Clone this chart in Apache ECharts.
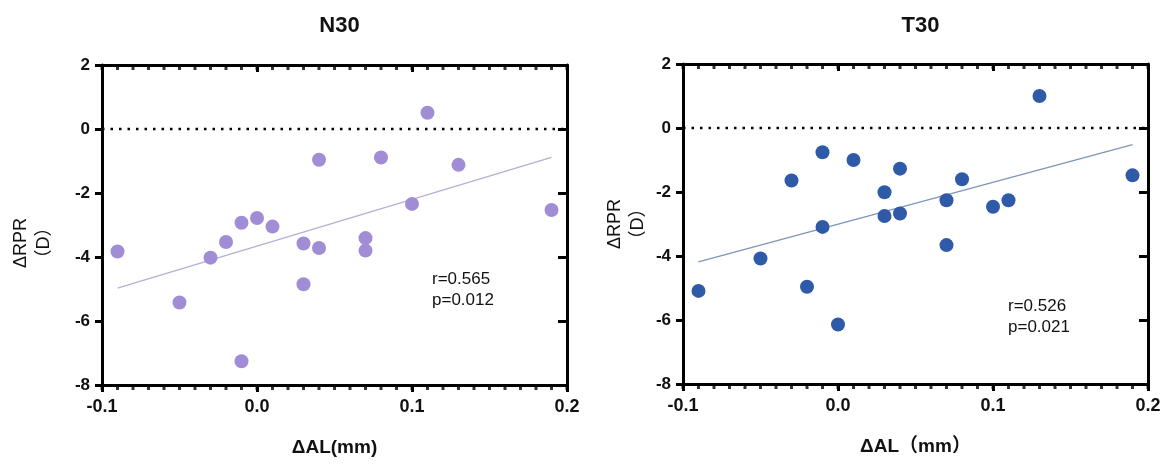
<!DOCTYPE html>
<html>
<head>
	<meta charset="utf-8">
	<title>N30 / T30</title>
	<script src="https://cdn.jsdelivr.net/npm/echarts@6/dist/echarts.min.js"></script>
	<style>
		html, body { margin: 0; padding: 0; background: #fff; }
		#chart { width: 1170px; height: 471px; }
	</style>
</head>
<body>
	<div id="chart"></div>
	<script type="text/javascript">
	// data
	var n30X = [-0.09, -0.05, -0.03, -0.02, -0.01, -0.01, 0.00, 0.01, 0.03, 0.03, 0.04, 0.04, 0.07, 0.07, 0.08, 0.10, 0.11, 0.13, 0.19];
	var n30Y = [-3.83, -5.42, -4.02, -3.53, -2.93, -7.26, -2.78, -3.05, -3.58, -4.85, -0.96, -3.72, -3.41, -3.80, -0.89, -2.34, 0.51, -1.12, -2.53];
	var n30Fit = [[-0.09, -4.97], [0.19, -0.89]];

	var t30X = [-0.09, -0.05, -0.03, -0.02, -0.01, -0.01, 0.00, 0.01, 0.03, 0.03, 0.04, 0.04, 0.07, 0.07, 0.08, 0.10, 0.11, 0.13, 0.19];
	var t30Y = [-5.09, -4.08, -1.64, -4.96, -0.76, -3.09, -6.14, -1.00, -2.01, -2.75, -1.27, -2.67, -2.26, -3.66, -1.60, -2.46, -2.26, 1.00, -1.48];
	var t30Fit = [[-0.09, -4.18], [0.19, -0.52]];

	var panelTitles = ['N30', 'T30'];
	var xNames = ['ΔAL(mm)', 'ΔAL（mm）'];
	var yName = 'ΔRPR\n（D）';
	var statTexts = [['r=0.565', 'p=0.012'], ['r=0.526', 'p=0.021']];
	var xTicks = { min: -0.1, max: 0.2, interval: 0.1 };
	var yTicks = { min: -8, max: 2, interval: 2 };
	// minor tick stops along x, every 0.01
	var minorStops = [];
	for (var k = -10; k <= 20; k++) minorStops.push(k / 100);

	var FONT = 'Arial, "Liberation Sans", "Noto Sans CJK SC", sans-serif';

	function pairs(xs, ys) {
		return xs.map(function (x, i) { return [x, ys[i]]; });
	}

	var grids = [
		{ left: 102, top: 65, width: 465, height: 320 },
		{ left: 683, top: 64, width: 465, height: 320 }
	];
	var yNameGap = [46, 33];
	var yNamePad = [[0, 36, 0, 0], [0, 0, 0, 0]];

	var tickLine = { width: 3, color: '#000' };
	var axisLine = { onZero: false, lineStyle: { color: '#000', width: 3 } };

	var xAxes = [], yAxes = [], series = [];
	grids.forEach(function (g, i) {
		xAxes.push({
			type: 'value', gridIndex: i, position: 'bottom',
			min: xTicks.min, max: xTicks.max, interval: xTicks.interval,
			name: xNames[i], nameLocation: 'middle', nameGap: 53,
			nameTextStyle: { fontFamily: FONT, fontWeight: 'bold', fontSize: 19, color: '#111' },
			axisLine: axisLine,
			axisTick: { length: 7, lineStyle: tickLine },
			axisLabel: { fontFamily: FONT, fontWeight: 'bold', fontSize: 18, color: '#111', margin: 13,
				formatter: function (v) { return v.toFixed(1); } },
			splitLine: { show: false }
		});
		xAxes.push({
			type: 'value', gridIndex: i, position: 'top',
			min: xTicks.min, max: xTicks.max, interval: xTicks.interval,
			axisLine: axisLine,
			axisTick: { inside: true, length: 7, lineStyle: tickLine },
			axisLabel: { show: false },
			splitLine: { show: false }
		});
		yAxes.push({
			type: 'value', gridIndex: i, position: 'left',
			min: yTicks.min, max: yTicks.max, interval: yTicks.interval,
			name: yName, nameLocation: 'middle', nameRotate: 90, nameGap: yNameGap[i],
			nameTextStyle: { fontFamily: FONT, fontSize: 18, color: '#111', lineHeight: 23, padding: yNamePad[i] },
			axisLine: axisLine,
			axisTick: { length: 7, lineStyle: tickLine },
			axisLabel: { fontFamily: FONT, fontWeight: 'bold', fontSize: 17, color: '#111', margin: 12 },
			splitLine: { show: false }
		});
		yAxes.push({
			type: 'value', gridIndex: i, position: 'right',
			min: yTicks.min, max: yTicks.max, interval: yTicks.interval,
			axisLine: axisLine,
			axisTick: { inside: true, length: 9, lineStyle: tickLine },
			axisLabel: { show: false },
			splitLine: { show: false }
		});
	});

	var colors = ['#a08dd6', '#2f5aa8'];
	var fitColors = ['#b5b0d2', '#7d95b8'];
	var dataSets = [pairs(n30X, n30Y), pairs(t30X, t30Y)];
	var fits = [n30Fit, t30Fit];

	for (var i = 0; i < 2; i++) {
		// minor ticks on bottom and top frame edges, placed through the x scale
		[yTicks.min, yTicks.max].forEach(function (yEdge) {
			series.push({
				type: 'scatter', xAxisIndex: i * 2, yAxisIndex: i * 2,
				data: minorStops.map(function (x) { return [x, yEdge]; }),
				symbol: 'rect', symbolSize: [3, 5], symbolOffset: [0, 2.5],
				clip: false, silent: true, z: 1,
				itemStyle: { color: '#000' }
			});
		});
		series.push({
			type: 'line', xAxisIndex: i * 2, yAxisIndex: i * 2,
			data: [[xTicks.min, 0], [xTicks.max, 0]],
			symbol: 'none', silent: true,
			lineStyle: { color: '#000', width: 2.5, type: [2.5, 6] }
		});
		series.push({
			type: 'line', xAxisIndex: i * 2, yAxisIndex: i * 2,
			data: fits[i], symbol: 'none', silent: true,
			lineStyle: { color: fitColors[i], width: 1.3 }
		});
		series.push({
			type: 'scatter', xAxisIndex: i * 2, yAxisIndex: i * 2,
			data: dataSets[i], symbolSize: 14, z: 5,
			itemStyle: { color: colors[i], opacity: 1 }
		});
	}

	var titles = panelTitles.map(function (t, i) {
		return {
			text: t, left: grids[i].left + grids[i].width / 2, top: 10, textAlign: 'center',
			textStyle: { fontFamily: FONT, fontWeight: 'bold', fontSize: 22, color: '#111' }
		};
	});

	var graphics = statTexts.map(function (s, i) {
		return {
			type: 'text', left: grids[i].left + (i === 0 ? 330 : 325), top: i === 0 ? 269 : 296,
			style: { text: s.join('\n'), font: '17px ' + FONT, fill: '#111', lineHeight: 21 }
		};
	});

	var chart = echarts.init(document.getElementById('chart'));
	chart.setOption({
		animation: false,
		title: titles,
		grid: grids,
		xAxis: xAxes,
		yAxis: yAxes,
		graphic: graphics,
		series: series
	});
	</script>
</body>
</html>
